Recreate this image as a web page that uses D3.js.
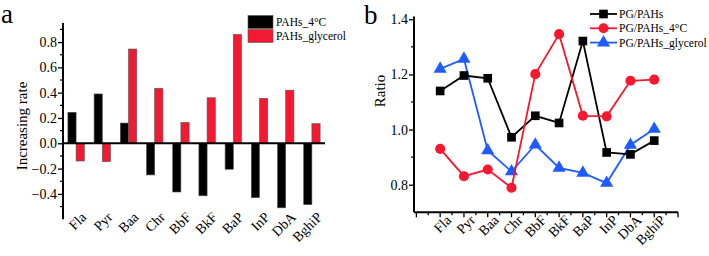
<!DOCTYPE html>
<html>
<head>
<meta charset="utf-8">
<script src="https://cdn.jsdelivr.net/npm/d3@7"></script>
<style>
  body { margin: 0; background: #fff; }
  svg { display: block; }
  text { font-family: "Liberation Serif", "Times New Roman", serif; fill: #000; }
</style>
</head>
<body>
<div class="chart"></div>
<script>
// ---------------- data ----------------
var compounds = ["Fla", "Pyr", "Baa", "Chr", "BbF", "BkF", "BaP", "InP", "DbA", "BghiP"];

// panel a : increasing rate
var rate4C = [0.245, 0.39, 0.16, -0.25, -0.385, -0.415, -0.205, -0.43, -0.51, -0.485];
var rateGlycerol = [-0.14, -0.145, 0.745, 0.435, 0.165, 0.36, 0.86, 0.355, 0.42, 0.155];
var rateTicks = [-0.4, -0.2, 0.0, 0.2, 0.4, 0.6, 0.8];
var barSeries = ["PAHs_4°C", "PAHs_glycerol"];

// panel b : ratio
var ratioPG = [1.14, 1.196, 1.186, 0.972, 1.05, 1.024, 1.321, 0.917, 0.91, 0.96];
var ratio4C = [0.93, 0.831, 0.855, 0.789, 1.201, 1.346, 1.05, 1.048, 1.177, 1.181];
var ratioGlycerol = [1.22, 1.256, 0.924, 0.848, 0.945, 0.861, 0.843, 0.806, 0.944, 1.002];
var ratioTicks = [0.8, 1.0, 1.2, 1.4];
var lineSeries = ["PG/PAHs", "PG/PAHs_4°C", "PG/PAHs_glycerol"];

var RED = "#f41830";
var BLUE = "#1e5cff";

var svg = d3.select(".chart")
	.append("svg")
	.attr("width", 709)
	.attr("height", 256);

// =====================================================
// panel a
// =====================================================
var xA = d3.scaleBand()
	.domain(compounds)
	.range([63, 325]);

var yA = d3.scaleLinear()
	.domain([-0.6, 0.95])
	.range([219.2, 23.1]);

var gA = svg.append("g");

// bars (black then red, side by side)
var barW = 8.2;
gA.selectAll(".bar4c")
	.data(rate4C)
	.enter().append("rect")
	.attr("class", "bar4c")
	.attr("x", function(d, i) { return xA(compounds[i]) + xA.bandwidth() / 2 - barW; })
	.attr("y", function(d) { return yA(Math.max(0, d)); })
	.attr("width", barW)
	.attr("height", function(d) { return Math.abs(yA(d) - yA(0)); })
	.style("fill", "#000")
	.style("stroke", "#555")
	.style("stroke-width", 0.6);

gA.selectAll(".barGly")
	.data(rateGlycerol)
	.enter().append("rect")
	.attr("class", "barGly")
	.attr("x", function(d, i) { return xA(compounds[i]) + xA.bandwidth() / 2; })
	.attr("y", function(d) { return yA(Math.max(0, d)); })
	.attr("width", barW)
	.attr("height", function(d) { return Math.abs(yA(d) - yA(0)); })
	.style("fill", RED)
	.style("stroke", "#555")
	.style("stroke-width", 0.6);

// zero line
gA.append("line")
	.attr("x1", xA.range()[0])
	.attr("x2", xA.range()[1])
	.attr("y1", yA(0))
	.attr("y2", yA(0))
	.style("stroke", "#000")
	.style("stroke-width", 2);

// y axis with minor ticks
var yAxisA = d3.axisLeft(yA)
	.tickValues(rateTicks)
	.tickSize(5)
	.tickPadding(1)
	.tickFormat(d3.format(".1f"));

var gyA = gA.append("g")
	.attr("transform", "translate(63,0)")
	.call(yAxisA)
	.attr("font-family", "Liberation Serif")
	.attr("font-size", 14);

gyA.select(".domain").remove();
gyA.append("line")
	.attr("x1", 0).attr("x2", 0)
	.attr("y1", yA.range()[0]).attr("y2", yA.range()[1])
	.style("stroke", "#000")
	.style("stroke-width", 2);
gyA.selectAll(".tick line").style("stroke-width", 1.3);

gyA.selectAll(".minor")
	.data(d3.range(-5, 10, 2).map(function(k) { return k / 10; }))
	.enter().append("line")
	.attr("class", "minor")
	.attr("x1", -3).attr("x2", 0)
	.attr("y1", function(d) { return yA(d); })
	.attr("y2", function(d) { return yA(d); })
	.style("stroke", "#000")
	.style("stroke-width", 1.2);

// category labels
gA.selectAll(".catA")
	.data(compounds)
	.enter().append("text")
	.attr("class", "catA")
	.attr("text-anchor", "end")
	.style("font-size", "14px")
	.attr("transform", function(d) {
		return "translate(" + (xA(d) + xA.bandwidth() / 2 + 11) + ",218) rotate(-45)";
	})
	.text(function(d) { return d; });

gA.append("text")
	.attr("text-anchor", "middle")
	.style("font-size", "15px")
	.attr("transform", "translate(27,126) rotate(-90)")
	.text("Increasing rate");

gA.append("text")
	.attr("x", 1)
	.attr("y", 23)
	.style("font-size", "27px")
	.text("a");

// legend a
var legA = gA.selectAll(".legA")
	.data(barSeries)
	.enter().append("g")
	.attr("class", "legA")
	.attr("transform", function(d, i) { return "translate(248," + (15.5 + i * 14) + ")"; });

legA.append("rect")
	.attr("width", 25)
	.attr("height", 13)
	.style("fill", function(d, i) { return i === 0 ? "#000" : RED; })
	.style("stroke", "#555")
	.style("stroke-width", 0.6);

legA.append("text")
	.attr("x", 28)
	.attr("y", 10.5)
	.style("font-size", "11.5px")
	.text(function(d) { return d; });

// =====================================================
// panel b
// =====================================================
var xB = d3.scaleLinear()
	.domain([-0.1, 11])
	.range([414, 678]);

var yB = d3.scaleLinear()
	.domain([0.7, 1.41])
	.range([212.3, 16.5]);

var gB = svg.append("g");

// x axis
gB.append("line")
	.attr("x1", xB.range()[0]).attr("x2", xB.range()[1])
	.attr("y1", yB(0.7)).attr("y2", yB(0.7))
	.style("stroke", "#000")
	.style("stroke-width", 2);

gB.selectAll(".xtick")
	.data(d3.range(0, 22.5).map(function(k) { return k / 2; }))
	.enter().append("line")
	.attr("class", "xtick")
	.attr("x1", function(d) { return xB(d); })
	.attr("x2", function(d) { return xB(d); })
	.attr("y1", yB(0.7))
	.attr("y2", function(d) { return yB(0.7) + (d % 1 === 0 ? 5 : 3); })
	.style("stroke", "#000")
	.style("stroke-width", 1.3);

// y axis
var yAxisB = d3.axisLeft(yB)
	.tickValues(ratioTicks)
	.tickSize(5)
	.tickPadding(1)
	.tickFormat(d3.format(".1f"));

var gyB = gB.append("g")
	.attr("transform", "translate(414,0)")
	.call(yAxisB)
	.attr("font-family", "Liberation Serif")
	.attr("font-size", 14);

gyB.select(".domain").remove();
gyB.append("line")
	.attr("x1", 0).attr("x2", 0)
	.attr("y1", yB.range()[0]).attr("y2", yB.range()[1])
	.style("stroke", "#000")
	.style("stroke-width", 2);
gyB.selectAll(".tick line").style("stroke-width", 1.3);

gyB.selectAll(".minor")
	.data([0.9, 1.1, 1.3])
	.enter().append("line")
	.attr("class", "minor")
	.attr("x1", -3).attr("x2", 0)
	.attr("y1", function(d) { return yB(d); })
	.attr("y2", function(d) { return yB(d); })
	.style("stroke", "#000")
	.style("stroke-width", 1.2);

gB.selectAll(".catB")
	.data(compounds)
	.enter().append("text")
	.attr("class", "catB")
	.attr("text-anchor", "end")
	.style("font-size", "14px")
	.attr("transform", function(d, i) {
		return "translate(" + (xB(i + 1) + 12) + ",221) rotate(-45)";
	})
	.text(function(d) { return d; });

gB.append("text")
	.attr("text-anchor", "middle")
	.style("font-size", "15px")
	.attr("transform", "translate(385,91) rotate(-90)")
	.text("Ratio");

gB.append("text")
	.attr("x", 364)
	.attr("y", 24)
	.style("font-size", "27px")
	.text("b");

// lines
var seriesB = [
	{ name: lineSeries[0], values: ratioPG, color: "#000", shape: d3.symbolSquare, size: 75 },
	{ name: lineSeries[1], values: ratio4C, color: RED, shape: d3.symbolCircle, size: 80 },
	{ name: lineSeries[2], values: ratioGlycerol, color: BLUE, shape: d3.symbolTriangle, size: 75 }
];

var lineB = d3.line()
	.x(function(d, i) { return xB(i + 1); })
	.y(function(d) { return yB(d); });

// draw order: blue, black, red (red on top near Chr)
[2, 0, 1].forEach(function(k) {
	var s = seriesB[k];
	gB.append("path")
		.datum(s.values)
		.attr("d", lineB)
		.style("fill", "none")
		.style("stroke", s.color)
		.style("stroke-width", 1.8);
	gB.selectAll(".pt" + k)
		.data(s.values)
		.enter().append("path")
		.attr("class", "pt" + k)
		.attr("d", d3.symbol().type(s.shape).size(s.size))
		.attr("transform", function(d, i) { return "translate(" + xB(i + 1) + "," + yB(d) + ")"; })
		.style("fill", s.color);
});

// legend b
var legB = gB.selectAll(".legB")
	.data(seriesB)
	.enter().append("g")
	.attr("class", "legB")
	.attr("transform", function(d, i) { return "translate(590," + (14 + i * 14.3) + ")"; });

legB.append("line")
	.attr("x1", 0).attr("x2", 27)
	.style("stroke", function(d) { return d.color; })
	.style("stroke-width", 1.8);

legB.append("path")
	.attr("transform", "translate(13.5,0)")
	.attr("d", function(d) { return d3.symbol().type(d.shape).size(d.size)(); })
	.style("fill", function(d) { return d.color; });

legB.append("text")
	.attr("x", 29)
	.attr("y", 4)
	.style("font-size", "11.5px")
	.text(function(d) { return d.name; });
</script>
</body>
</html>
